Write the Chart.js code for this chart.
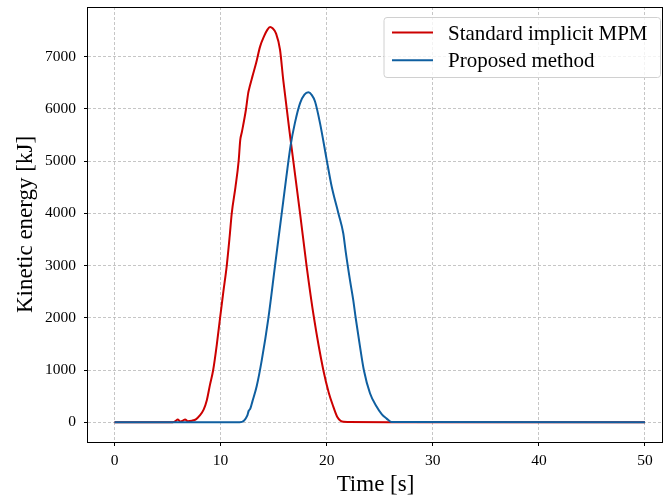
<!DOCTYPE html>
<html>
<head>
<meta charset="utf-8">
<script src="https://cdn.jsdelivr.net/npm/chart.js@4"></script>
<style>
	body { margin: 0; background: #fff; }
	#wrap { width: 664px; height: 500px; }
</style>
</head>
<body>
<div id="wrap"><canvas id="energy-chart" width="664" height="500"></canvas></div>
<script>
// values
const seriesNames = ['Standard implicit MPM', 'Proposed method'];

const redTime = [0, 5.5, 5.8, 5.95, 6.2, 6.45, 6.65, 6.9, 7.3, 7.7, 8.0, 8.4, 8.7, 9.0, 9.3, 9.65, 9.95,
	10.26, 10.58, 10.85, 11.05, 11.4, 11.7, 11.85, 12.0, 12.4, 12.6, 12.75, 13.0, 13.34, 13.72, 14.1,
	14.4, 14.66, 14.9, 15.23, 15.6, 15.9, 16.6, 17.5, 18.1, 18.8, 19.68, 20.2, 20.62, 21.0, 21.3, 21.6,
	22.0, 26.0, 50];
const redEnergy = [0, 0, 30, 55, 15, 30, 55, 20, 30, 60, 120, 240, 420, 720, 1000, 1500, 2000,
	2500, 3000, 3550, 4000, 4500, 5000, 5400, 5550, 6000, 6300, 6430, 6620, 6870, 7190, 7390,
	7510, 7565, 7540, 7440, 7130, 6560, 5400, 3980, 3000, 2000, 1000, 560, 300, 100, 30, 8,
	5, 0, 0];

const blueTime = [0, 11.8, 12.2, 12.5, 12.65, 12.8, 13.0, 13.4, 13.88, 14.5, 15.13, 15.76, 16.2, 16.6,
	17.0, 17.49, 17.9, 18.27, 18.6, 18.9, 19.37, 20.0, 20.47, 21.1, 21.56, 21.8, 22.19, 22.5, 22.73,
	23.1, 23.5, 24.08, 24.7, 25.2, 25.65, 26.1, 50];
const blueEnergy = [0, 0, 30, 120, 220, 260, 400, 690, 1190, 1990, 3000, 4000, 4700, 5300,
	5725, 6108, 6270, 6315, 6260, 6138, 5725, 5022, 4511, 4002, 3618, 3250, 2724, 2341, 2000,
	1500, 1000, 555, 300, 150, 70, 5, 0];

const xTicks = [0, 10, 20, 30, 40, 50];
const yTicks = [0, 1000, 2000, 3000, 4000, 5000, 6000, 7000];

const colors = ['#cc0000', '#0f5fa0'];
const serif = '"Liberation Serif", "DejaVu Serif", serif';

const toPoints = (xs, ys) => xs.map((x, i) => ({ x, y: ys[i] }));

// full box round the plot, like matplotlib spines
const frame = {
	id: 'frame',
	afterDatasetsDraw(chart) {
		const { ctx, chartArea: a } = chart;
		ctx.save();
		ctx.strokeStyle = '#000';
		ctx.lineWidth = 1;
		ctx.strokeRect(Math.round(a.left) - 0.5, Math.round(a.top) + 0.5,
			Math.round(a.right - a.left), Math.round(a.bottom - a.top));
		ctx.restore();
	}
};

// legend box in the upper right corner
const boxLegend = {
	id: 'boxLegend',
	afterDraw(chart) {
		const { ctx } = chart;
		const x = 384, y = 17.5, w = 276.5, h = 60, r = 3;
		ctx.save();
		ctx.beginPath();
		ctx.roundRect(x, y, w, h, r);
		ctx.fillStyle = 'rgba(255,255,255,0.8)';
		ctx.fill();
		ctx.strokeStyle = '#d0d0d0';
		ctx.lineWidth = 1;
		ctx.stroke();
		ctx.font = `21px ${serif}`;
		ctx.textBaseline = 'alphabetic';
		seriesNames.forEach((name, i) => {
			const ly = 32.5 + i * 27.7;
			ctx.strokeStyle = colors[i];
			ctx.lineWidth = 2;
			ctx.beginPath();
			ctx.moveTo(392, ly);
			ctx.lineTo(433, ly);
			ctx.stroke();
			ctx.fillStyle = '#000';
			ctx.fillText(name, 448, ly + 7);
		});
		ctx.restore();
	}
};

const gridOpts = {
	color: '#b8b8b8',
	lineWidth: 0.8,
	tickColor: '#000',
	tickLength: 4,
	tickWidth: 1,
	tickBorderDash: []
};
const borderOpts = { display: false, dash: [3, 2] };

new Chart(document.getElementById('energy-chart'), {
	type: 'line',
	data: {
		datasets: [
			{
				label: seriesNames[0],
				data: toPoints(redTime, redEnergy),
				borderColor: colors[0],
				borderWidth: 2,
				pointRadius: 0,
				cubicInterpolationMode: 'monotone',
				order: 2
			},
			{
				label: seriesNames[1],
				data: toPoints(blueTime, blueEnergy),
				borderColor: colors[1],
				borderWidth: 2,
				pointRadius: 0,
				cubicInterpolationMode: 'monotone',
				order: 1
			}
		]
	},
	options: {
		responsive: false,
		animation: false,
		layout: { padding: { top: 7, right: 1, left: 0, bottom: 0 } },
		plugins: {
			legend: { display: false },
			tooltip: { enabled: false }
		},
		scales: {
			x: {
				type: 'linear',
				min: -2.5,
				max: 51.7,
				afterBuildTicks: s => { s.ticks = xTicks.map(v => ({ value: v })); },
				afterFit: s => {
					s.height = 58;
					s.paddingLeft = 0;
					s.paddingRight = 0;
				},
				grid: gridOpts,
				border: borderOpts,
				ticks: {
					color: '#000',
					padding: 6,
					maxRotation: 0,
					font: { family: serif, size: 15.5 },
					callback: v => String(v)
				},
				title: {
					display: true,
					text: 'Time [s]',
					color: '#000',
					padding: { top: 0, bottom: 1 },
					font: { family: serif, size: 23 }
				}
			},
			y: {
				type: 'linear',
				min: -378,
				max: 7948,
				afterBuildTicks: s => { s.ticks = yTicks.map(v => ({ value: v })); },
				afterFit: s => {
					s.width = 88;
					s.paddingTop = 0;
					s.paddingBottom = 0;
				},
				grid: gridOpts,
				border: borderOpts,
				ticks: {
					color: '#000',
					padding: 8,
					font: { family: serif, size: 15.5 },
					callback: v => String(v)
				},
				title: {
					display: true,
					text: 'Kinetic energy [kJ]',
					color: '#000',
					padding: { top: 12, bottom: 0 },
					font: { family: serif, size: 23 }
				}
			}
		}
	},
	plugins: [frame, boxLegend]
});
</script>
</body>
</html>
